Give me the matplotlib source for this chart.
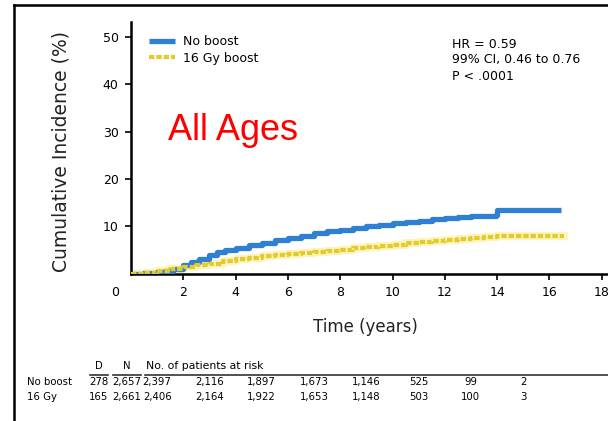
import matplotlib
matplotlib.use('Agg')
import matplotlib.pyplot as plt
from matplotlib.lines import Line2D
import matplotlib.transforms as mtransforms

plt.rcParams['font.family'] = ['DejaVu Sans']

# cumulative incidence curves (years, %)
no_boost_t = [0, 0.5, 1.0, 1.3, 1.6, 2.0, 2.3, 2.6, 3.0, 3.3, 3.6, 4.0, 4.5, 5.0,
              5.5, 6.0, 6.5, 7.0, 7.5, 8.0, 8.5, 9.0, 9.5, 10.0, 10.5, 11.0,
              11.5, 12.0, 12.5, 13.0, 13.5, 13.95, 14.0, 16.45]
no_boost_v = [0, 0.1, 0.3, 0.5, 1.0, 1.8, 2.4, 3.0, 3.9, 4.5, 4.9, 5.4, 6.0, 6.5,
              7.0, 7.5, 8.0, 8.5, 8.9, 9.3, 9.7, 10.0, 10.3, 10.6, 10.9, 11.2,
              11.5, 11.7, 11.9, 12.1, 12.2, 12.3, 13.4, 13.4]
boost_t = [0, 0.5, 1.0, 1.5, 2.0, 2.5, 3.0, 3.5, 4.0, 4.5, 5.0, 5.5, 6.0, 6.5,
           7.0, 7.5, 8.0, 8.5, 9.0, 9.5, 10.0, 10.5, 11.0, 11.5, 12.0, 12.5,
           13.0, 13.5, 14.0, 16.55]
boost_v = [0, 0.2, 0.5, 0.9, 1.3, 1.7, 2.1, 2.6, 3.0, 3.3, 3.6, 3.9, 4.1, 4.4,
           4.6, 4.8, 5.0, 5.3, 5.6, 5.9, 6.1, 6.4, 6.6, 6.9, 7.1, 7.3,
           7.5, 7.7, 7.9, 7.9]

x_ticks = [2, 4, 6, 8, 10, 12, 14, 16, 18]
y_ticks = [10, 20, 30, 40, 50]

# numbers at risk
row_labels = ['No boost', '16 Gy']
events = ['278', '165']
n_total = ['2,657', '2,661']
risk_times = [2, 4, 6, 8, 10, 12, 14, 16]
risk_no_boost = ['2,397', '2,116', '1,897', '1,673', '1,146', '525', '99', '2']
risk_boost = ['2,406', '2,164', '1,922', '1,653', '1,148', '503', '100', '3']

W, H = 608, 421


def fx(x):
    return x / W


def fy(y):
    return 1 - y / H


fig = plt.figure(figsize=(W / 100, H / 100), dpi=100)
ax = fig.add_axes([fx(131), fy(273.5), 523 / W, (273.5 - 22) / H])

ax.plot(no_boost_t, no_boost_v, drawstyle='steps-post', color='#2f80d2',
        lw=3.8, solid_capstyle='butt', label='No boost', zorder=3)
ax.plot(boost_t, boost_v, drawstyle='steps-post', color='#fbf3c0', lw=6,
        zorder=2)
ax.plot(boost_t, boost_v, drawstyle='steps-post', color='#e3cc2a', lw=3.0,
        linestyle=(0, (1.3, 0.45)), label='16 Gy boost', zorder=4)

ax.set_xlim(0, 20)
ax.set_ylim(0, 53.2)
ax.set_xticks(x_ticks)
ax.set_yticks(y_ticks)
ax.tick_params(direction='out', length=4.5, width=1.2, labelsize=9,
               pad=4.5, colors='black')
for s in ['top', 'right']:
    ax.spines[s].set_visible(False)
for s in ['left', 'bottom']:
    ax.spines[s].set_linewidth(1.8)

fig.text(fx(119), fy(293), '0', ha='right', va='center', fontsize=9)
fig.text(fx(61), fy(151), 'Cumulative Incidence (%)', rotation=90,
         ha='center', va='center', fontsize=13.5, color='#222222')
fig.text(fx(365), fy(327), 'Time (years)', ha='center', va='center',
         fontsize=12, color='#222222')

leg = ax.legend(loc='upper left', bbox_to_anchor=(fx(149), fy(35)),
                bbox_transform=fig.transFigure, frameon=False, fontsize=9,
                handlelength=2.1, handletextpad=0.6, labelspacing=0.3,
                borderpad=0, borderaxespad=0)

fig.text(fx(452), fy(44), 'HR = 0.59', ha='left', va='center', fontsize=9)
fig.text(fx(452), fy(60), '99% CI, 0.46 to 0.76', ha='left', va='center',
         fontsize=9)
fig.text(fx(452), fy(76), 'P < .0001', ha='left', va='center', fontsize=9)

fig.text(fx(168), fy(140), 'All Ages', ha='left', va='baseline',
         fontsize=26, color='#ff0000', family='Liberation Sans')

# risk table
tab = dict(fontsize=7.3, va='center')
trans = mtransforms.blended_transform_factory(ax.transData, fig.transFigure)
fig.text(fx(99), fy(366), 'D', ha='center', **tab)
fig.text(fx(127), fy(366), 'N', ha='center', **tab)
fig.text(fx(146), fy(366), 'No. of patients at risk', ha='left',
         fontsize=7.8, va='center')
for x0, x1 in [(90, 108), (113, 141), (145, 620)]:
    fig.add_artist(Line2D([fx(x0), fx(x1)], [fy(374.5), fy(374.5)],
                          color='#333333', lw=1.2, transform=fig.transFigure))
rows_y = [382, 397]
for lab, d, n, vals, y in zip(row_labels, events, n_total,
                              [risk_no_boost, risk_boost], rows_y):
    fig.text(fx(27), fy(y), lab, ha='left', **tab)
    fig.text(fx(108), fy(y), d, ha='right', **tab)
    fig.text(fx(127), fy(y), n, ha='center', **tab)
    for t, v in zip(risk_times, vals):
        ax.text(t - 1, fy(y), v, ha='center', transform=trans, clip_on=False,
                **tab)

# outer frame
fig.add_artist(Line2D([fx(14), fx(14)], [0, fy(5)], color='black', lw=1.8,
                      transform=fig.transFigure))
fig.add_artist(Line2D([fx(14), 1.0], [fy(5), fy(5)], color='black', lw=1.8,
                      transform=fig.transFigure))

fig.savefig('out.png', dpi=100)
